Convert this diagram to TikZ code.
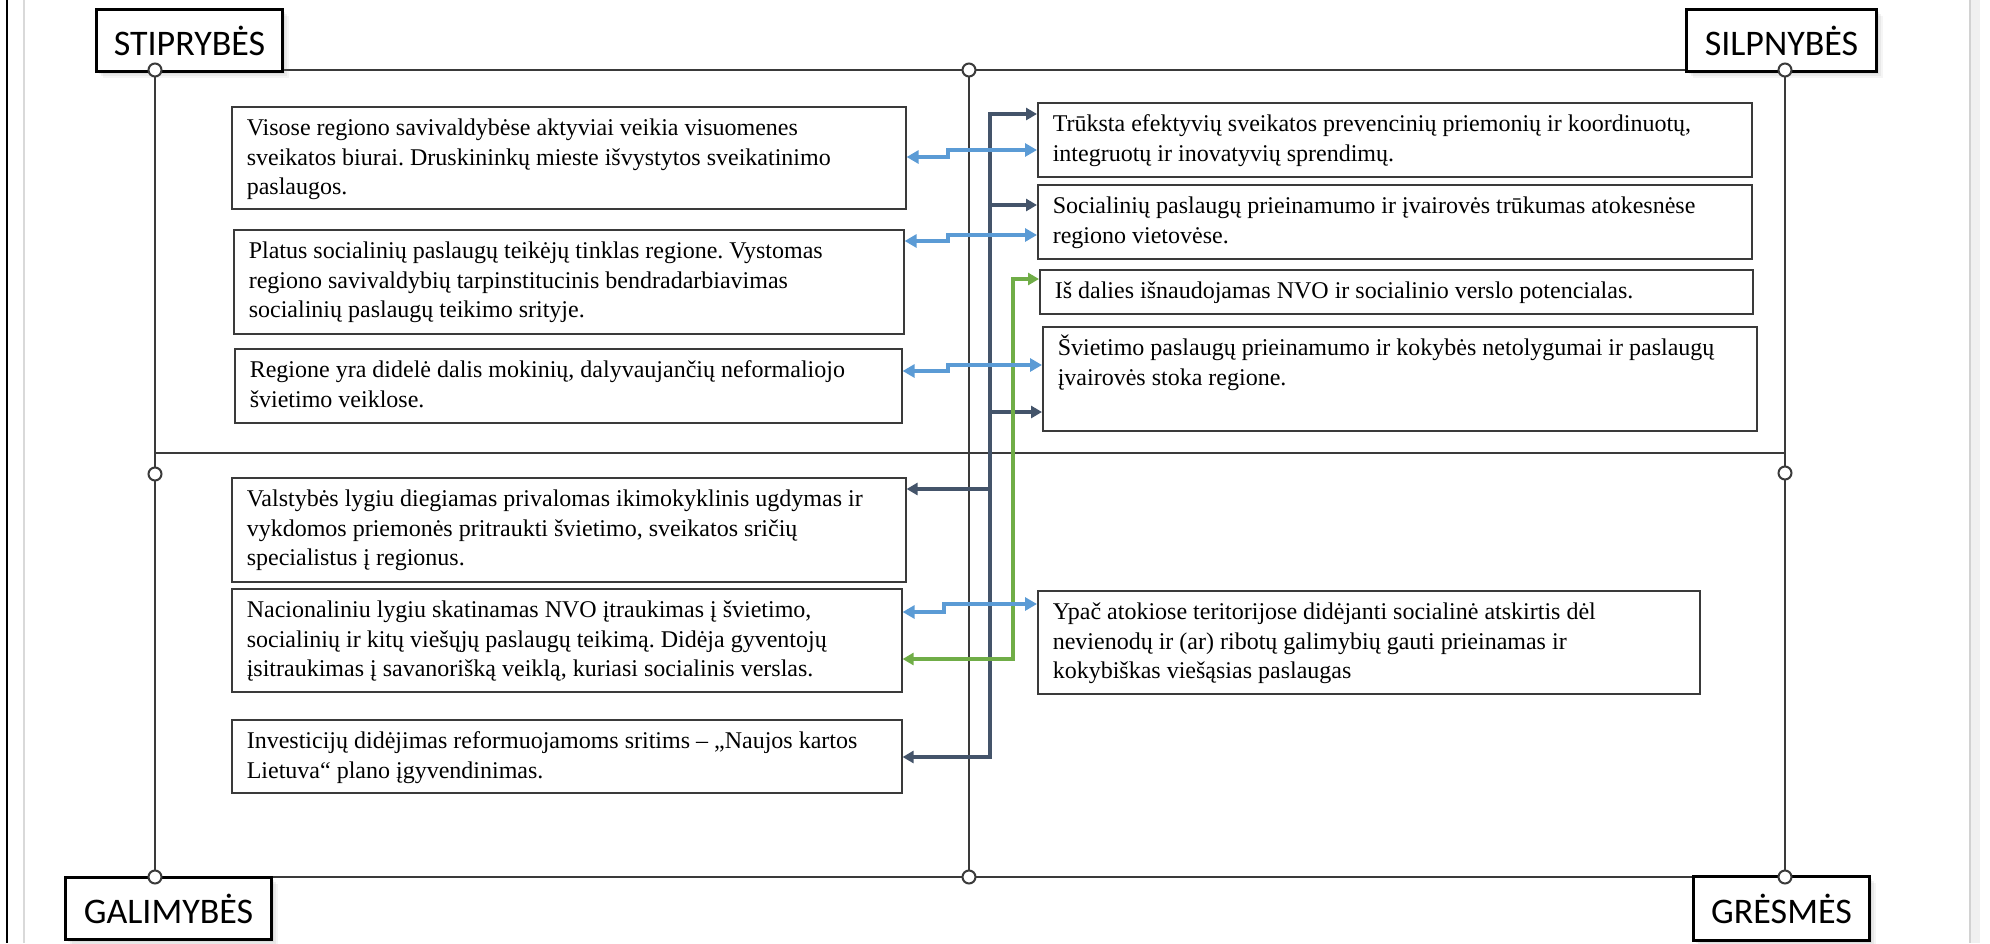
\documentclass[tikz,border=0pt]{standalone}
\usepackage{fontspec}
\setmainfont{Liberation Serif}
\newfontfamily\labelfont{Carlito}
\usetikzlibrary{arrows.meta,shadows}
\frenchspacing

\definecolor{navyc}{HTML}{44546A}
\definecolor{bluec}{HTML}{5B9BD5}
\definecolor{greenc}{HTML}{70AD47}
\definecolor{framec}{HTML}{3A3A3A}

\tikzset{
  tbox/.style={draw=framec, line width=1.6pt, fill=white, inner xsep=15pt, inner ysep=6pt,
    font=\fontsize{24}{29.5}\selectfont, anchor=north west},
  lbl/.style={draw=black, line width=3pt, fill=white, inner sep=0pt, anchor=north west,
    font=\labelfont\fontsize{36}{40}\selectfont,
    drop shadow={opacity=0.12, shadow xshift=2pt, shadow yshift=-2pt},
    drop shadow={opacity=0.10, shadow xshift=4pt, shadow yshift=-4pt},
    drop shadow={opacity=0.08, shadow xshift=6pt, shadow yshift=-6pt}},
  frameline/.style={draw=framec, line width=2.4pt},
  midline/.style={draw=framec, line width=2pt},
  junc/.style={circle, draw=framec, line width=2pt, fill=white, minimum size=13pt, inner sep=0pt},
  navyarr/.style={draw=navyc, line width=3.6pt, -{Triangle[length=11pt,width=12pt]}},
  navyboth/.style={draw=navyc, line width=3.6pt, {Triangle[length=11pt,width=12pt]}-{Triangle[length=11pt,width=12pt]}},
  bluearr/.style={draw=bluec, line width=3.4pt, {Triangle[length=12pt,width=13pt]}-{Triangle[length=12pt,width=13pt]}},
  greenarr/.style={draw=greenc, line width=3.2pt, {Triangle[length=11pt,width=12pt]}-{Triangle[length=11pt,width=12pt]}}
}

% #1 name, #2 x1, #3 y1, #4 x2, #5 y2, #6 text
\newcommand\mybox[6]{%
  \node[tbox] (#1) at (#2,#3)
    {\parbox[t][\dimexpr #5pt-#3pt-12pt\relax][t]{\dimexpr #4pt-#2pt-30pt\relax}{\vspace*{2.5pt}\raggedright\strut #6}};%
}

\begin{document}
\begin{tikzpicture}[x=1pt,y=-1pt]
\useasboundingbox (0,0) rectangle (1990,943);
% page edges
\draw[black, line width=2.5pt] (7,0) -- (7,943);
\draw[gray!30, line width=1.5pt] (24,0) -- (24,943);
\fill[gray!12] (1969,0) rectangle (1980,943);
\draw[gray!35, line width=1.5pt] (1970,0) -- (1970,943);

% frame coordinates
\coordinate (tl) at (155,70);
\coordinate (tm) at (969,70);
\coordinate (tr) at (1785,70);
\coordinate (ml) at (155,453);
\coordinate (mr) at (1785,453);
\coordinate (bl) at (155,877);
\coordinate (bm) at (969,877);
\coordinate (br) at (1785,877);
\coordinate (jl) at (155,474);
\coordinate (jr) at (1785,473);

\draw[frameline] (tl) -- (tr);
\draw[frameline] (tl) -- (bl);
\draw[frameline] (tr) -- (br);
\draw[frameline] (bl) -- (br);
\draw[frameline] (ml) -- (mr);
\draw[midline] (tm) -- (bm);

% label boxes
\node[lbl, minimum width=186pt, minimum height=62pt] (lS) at (95,8) {STIPRYBĖS};
\node[lbl, minimum width=190pt, minimum height=62pt] (lW) at (1685,8) {SILPNYBĖS};
\node[lbl, minimum width=206pt, minimum height=62pt] (lO) at (64,876) {GALIMYBĖS};
\node[lbl, minimum width=176pt, minimum height=64pt] (lT) at (1692,875) {GRĖSMĖS};

% junction circles
\node[junc] (c1) at (tl) {};
\node[junc] (c2) at (tm) {};
\node[junc] (c3) at (tr) {};
\node[junc] (c4) at (jl) {};
\node[junc] (c5) at (jr) {};
\node[junc] (c6) at (bl) {};
\node[junc] (c7) at (bm) {};
\node[junc] (c8) at (br) {};

% text boxes
\mybox{s1}{231}{106}{905}{208}{Visose regiono savivaldybėse aktyviai veikia visuomenes\\sveikatos biurai. Druskininkų mieste išvystytos sveikatinimo\\paslaugos.}
\mybox{s2}{233}{229}{903}{333}{Platus socialinių paslaugų teikėjų tinklas regione. Vystomas\\regiono savivaldybių tarpinstitucinis bendradarbiavimas\\socialinių paslaugų teikimo srityje.}
\mybox{s3}{234}{348}{901}{422}{Regione yra didelė dalis mokinių, dalyvaujančių neformaliojo\\švietimo veiklose.}
\mybox{w1}{1037}{102}{1751}{176}{Trūksta efektyvių sveikatos prevencinių priemonių ir koordinuotų,\\integruotų ir inovatyvių sprendimų.}
\mybox{w2}{1037}{184}{1751}{258}{Socialinių paslaugų prieinamumo ir įvairovės trūkumas atokesnėse\\regiono vietovėse.}
\mybox{w3}{1039}{269}{1752}{313}{Iš dalies išnaudojamas NVO ir socialinio verslo potencialas.}
\mybox{w4}{1042}{326}{1756}{430}{Švietimo paslaugų prieinamumo ir kokybės netolygumai ir paslaugų\\įvairovės stoka regione.}
\mybox{o1}{231}{477}{905}{581}{Valstybės lygiu diegiamas privalomas ikimokyklinis ugdymas ir\\vykdomos priemonės pritraukti švietimo, sveikatos sričių\\specialistus į regionus.}
\mybox{o2}{231}{588}{901}{691}{Nacionaliniu lygiu skatinamas NVO įtraukimas į švietimo,\\socialinių ir kitų viešųjų paslaugų teikimą. Didėja gyventojų\\įsitraukimas į savanorišką veiklą, kuriasi socialinis verslas.}
\mybox{o3}{231}{719}{901}{792}{Investicijų didėjimas reformuojamoms sritims – „Naujos kartos\\Lietuva“ plano įgyvendinimas.}
\mybox{t1}{1037}{590}{1699}{693}{Ypač atokiose teritorijose didėjanti socialinė atskirtis dėl\\nevienodų ir (ar) ribotų galimybių gauti prieinamas ir\\kokybiškas viešąsias paslaugas}

% navy connectors
\coordinate (nvt) at (990,114);
\coordinate (nvb) at (990,757);
\coordinate (nv2) at (990,205);
\coordinate (nv4) at (990,412);
\coordinate (nvo) at (990,489);
\draw[navyboth] (w1.west |- nvt) -- (nvt) -- (nvb) -- (o3.east |- nvb);
\draw[navyarr] (nv2) -- (w2.west |- nv2);
\draw[navyarr] (nv4) -- (w4.west |- nv4);
\draw[navyarr] (nvo) -- (o1.east |- nvo);

% green connector
\coordinate (g1) at (1013,279);
\coordinate (g2) at (1013,659);
\draw[greenarr] (w3.west |- g1) -- (g1) -- (g2) -- (o2.east |- g2);

% blue connectors
\coordinate (b1a) at (948,157);
\coordinate (b1b) at (948,150);
\draw[bluearr] (s1.east |- b1a) -- (b1a) -- (b1b) -- (w1.west |- b1b);
\coordinate (b2a) at (948,241);
\coordinate (b2b) at (948,235);
\draw[bluearr] (s2.east |- b2a) -- (b2a) -- (b2b) -- (w2.west |- b2b);
\coordinate (b3a) at (948,371);
\coordinate (b3b) at (948,365);
\draw[bluearr] (s3.east |- b3a) -- (b3a) -- (b3b) -- (w4.west |- b3b);
\coordinate (b4a) at (944,612);
\coordinate (b4b) at (944,604);
\draw[bluearr] (o2.east |- b4a) -- (b4a) -- (b4b) -- (t1.west |- b4b);
\end{tikzpicture}
\end{document}
